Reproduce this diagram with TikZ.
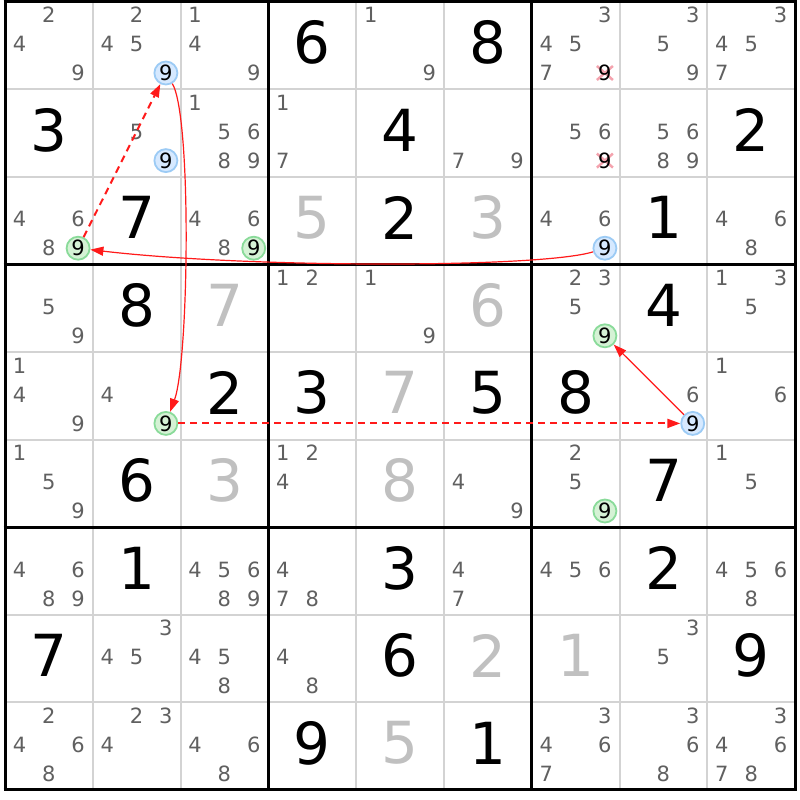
\documentclass[tikz,border=0pt]{standalone}
\usepackage{fontspec}
\setmainfont{DejaVu Sans}
\usetikzlibrary{arrows.meta,calc}
\definecolor{candc}{HTML}{606060}
\definecolor{solvc}{HTML}{C0C0C0}
\definecolor{thinc}{HTML}{D3D3D3}
\definecolor{bluef}{HTML}{D6E9FF}
\definecolor{blued}{HTML}{9CCBF5}
\definecolor{greenf}{HTML}{D5F2D5}
\definecolor{greend}{HTML}{8ADB9A}
\definecolor{xc}{HTML}{F4A3AE}
\definecolor{linkc}{HTML}{FF1A1A}
\newcommand\cands[3]{\foreach \d in {#3}{%
  \pgfmathsetmacro\cx{5+87.8*#2+14.5+29.3*mod(\d-1,3)}%
  \pgfmathsetmacro\cy{1.5+87.6*#1+13.5+29*floor((\d-1)/3)}%
  \node[cand] (n#1#2\d) at (\cx,\cy) {\d};}}
\newcommand\given[3]{%
  \pgfmathsetmacro\cx{5+87.8*#2+43.9}%
  \pgfmathsetmacro\cy{1.5+87.6*#1+40.8}%
  \node[givend] (g#1#2) at (\cx,\cy) {#3};}
\newcommand\solved[3]{%
  \pgfmathsetmacro\cx{5+87.8*#2+43.9}%
  \pgfmathsetmacro\cy{1.5+87.6*#1+40.8}%
  \node[solvedd] (s#1#2) at (\cx,\cy) {#3};}
\newcommand\ringnode[4]{%
  \pgfmathsetmacro\cx{5+87.8*#4+14.5+29.3*2}%
  \pgfmathsetmacro\cy{1.5+87.6*#3+13.5+29*2}%
  \node[#2] (#1) at (\cx,\cy) {9};}
\newcommand\xnode[3]{%
  \pgfmathsetmacro\cx{5+87.8*#3+14.5+29.3*2}%
  \pgfmathsetmacro\cy{1.5+87.6*#2+13.5+29*2}%
  \draw[xmark] (\cx-8,\cy-7) -- (\cx+8,\cy+7) (\cx-8,\cy+7) -- (\cx+8,\cy-7);
  \node[xnine] (#1) at (\cx,\cy) {9};}
\tikzset{
  cand/.style={inner sep=0pt, text=candc, font=\fontsize{21}{23}\selectfont},
  givend/.style={inner sep=0pt, text=black, font=\fontsize{58}{60}\selectfont},
  solvedd/.style={givend, text=solvc},
  xnine/.style={cand, text=black},
  xmark/.style={draw=xc, line width=2.5pt},
  ringb/.style={circle, draw=blued, fill=bluef, line width=1.8pt, minimum size=23pt, inner sep=0pt, text=black, font=\fontsize{21}{23}\selectfont},
  ringg/.style={ringb, draw=greend, fill=greenf},
  thinline/.style={draw=thinc, line width=2pt},
  thickline/.style={draw=black, line width=3pt},
  link/.style={draw=linkc, line width=1.2pt, -{Triangle[length=13pt,width=9pt]}},
  dlink/.style={link, line width=2pt, dash pattern=on 7pt off 5pt},
}
\begin{document}
\begin{tikzpicture}[x=1pt,y=-1pt]
\useasboundingbox (0,0) rectangle (800,800);
\fill[white] (0,0) rectangle (800,800);
\foreach \k in {1,2,4,5,7,8}{
  \draw[thinline] (5+87.8*\k,1.5) -- (5+87.8*\k,789.9);
  \draw[thinline] (5,1.5+87.6*\k) -- (795.2,1.5+87.6*\k);
}
\foreach \k in {0,3,6,9}{
  \draw[thickline] (5+87.8*\k,0) -- (5+87.8*\k,791.4);
  \draw[thickline] (3.5,1.5+87.6*\k) -- (796.7,1.5+87.6*\k);
}
% row 0
\cands{0}{0}{2,4,9}
\cands{0}{1}{2,4,5}\ringnode{A}{ringb}{0}{1}
\cands{0}{2}{1,4,9}
\given{0}{3}{6}
\cands{0}{4}{1,9}
\given{0}{5}{8}
\cands{0}{6}{3,4,5,7}\xnode{X1}{0}{6}
\cands{0}{7}{3,5,9}
\cands{0}{8}{3,4,5,7}
% row 1
\given{1}{0}{3}
\cands{1}{1}{5}\ringnode{B}{ringb}{1}{1}
\cands{1}{2}{1,5,6,8,9}
\cands{1}{3}{1,7}
\given{1}{4}{4}
\cands{1}{5}{7,9}
\cands{1}{6}{5,6}\xnode{X2}{1}{6}
\cands{1}{7}{5,6,8,9}
\given{1}{8}{2}
% row 2
\cands{2}{0}{4,6,8}\ringnode{C}{ringg}{2}{0}
\given{2}{1}{7}
\cands{2}{2}{4,6,8}\ringnode{D}{ringg}{2}{2}
\solved{2}{3}{5}
\given{2}{4}{2}
\solved{2}{5}{3}
\cands{2}{6}{4,6}\ringnode{E}{ringb}{2}{6}
\given{2}{7}{1}
\cands{2}{8}{4,6,8}
% row 3
\cands{3}{0}{5,9}
\given{3}{1}{8}
\solved{3}{2}{7}
\cands{3}{3}{1,2}
\cands{3}{4}{1,9}
\solved{3}{5}{6}
\cands{3}{6}{2,3,5}\ringnode{F}{ringg}{3}{6}
\given{3}{7}{4}
\cands{3}{8}{1,3,5}
% row 4
\cands{4}{0}{1,4,9}
\cands{4}{1}{4}\ringnode{G}{ringg}{4}{1}
\given{4}{2}{2}
\given{4}{3}{3}
\solved{4}{4}{7}
\given{4}{5}{5}
\given{4}{6}{8}
\cands{4}{7}{6}\ringnode{H}{ringb}{4}{7}
\cands{4}{8}{1,6}
% row 5
\cands{5}{0}{1,5,9}
\given{5}{1}{6}
\solved{5}{2}{3}
\cands{5}{3}{1,2,4}
\solved{5}{4}{8}
\cands{5}{5}{4,9}
\cands{5}{6}{2,5}\ringnode{I}{ringg}{5}{6}
\given{5}{7}{7}
\cands{5}{8}{1,5}
% row 6
\cands{6}{0}{4,6,8,9}
\given{6}{1}{1}
\cands{6}{2}{4,5,6,8,9}
\cands{6}{3}{4,7,8}
\given{6}{4}{3}
\cands{6}{5}{4,7}
\cands{6}{6}{4,5,6}
\given{6}{7}{2}
\cands{6}{8}{4,5,6,8}
% row 7
\given{7}{0}{7}
\cands{7}{1}{3,4,5}
\cands{7}{2}{4,5,8}
\cands{7}{3}{4,8}
\given{7}{4}{6}
\solved{7}{5}{2}
\solved{7}{6}{1}
\cands{7}{7}{3,5}
\given{7}{8}{9}
% row 8
\cands{8}{0}{2,4,6,8}
\cands{8}{1}{2,3,4}
\cands{8}{2}{4,6,8}
\given{8}{3}{9}
\solved{8}{4}{5}
\given{8}{5}{1}
\cands{8}{6}{3,4,6,7}
\cands{8}{7}{3,6,8}
\cands{8}{8}{3,4,6,7,8}
% links
\draw[link] (A) .. controls ($(A)+(26,43)$) and ($(G)+(23,-63)$) .. (G);
\draw[dlink] (C) -- (A);
\draw[link] (E) .. controls ($(E)+(-65,20)$) and ($(C)+(170,20)$) .. (C);
\draw[dlink] (G) -- (H);
\draw[link] (H) -- (F);
\end{tikzpicture}
\end{document}
